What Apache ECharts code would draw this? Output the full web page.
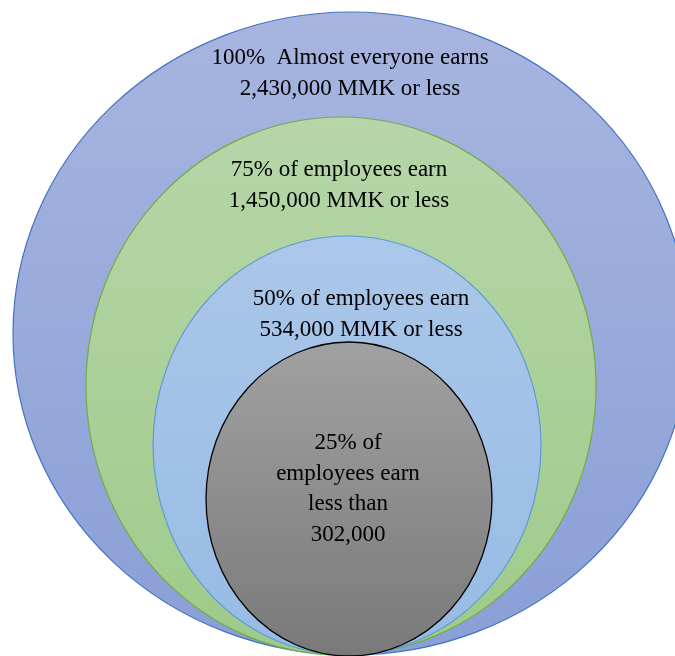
<!DOCTYPE html>
<html>
<head>
<meta charset="utf-8">
<script src="https://cdn.jsdelivr.net/npm/echarts@6/dist/echarts.min.js"></script>
<style>
  html, body { margin: 0; padding: 0; background: #ffffff; }
  #chart { width: 675px; height: 656px; }
</style>
</head>
<body>
<div id="chart"></div>
<script>
// Earnings percentiles, outermost group first
const shares = ['100%', '75%', '50%', '25%'];
const earnings = ['2,430,000', '1,450,000', '534,000', '302,000'];
const captions = [
  ['100%  Almost everyone earns', '2,430,000 MMK or less'],
  ['75% of employees earn', '1,450,000 MMK or less'],
  ['50% of employees earn', '534,000 MMK or less'],
  ['25% of', 'employees earn', 'less than', '302,000']
];

// Ellipse extents on the hidden plane: [left, right, top, bottom]
const extents = [
  [13, 689, 12, 655],
  [86, 596, 117, 655],
  [153, 541, 236, 655],
  [206, 492, 342, 656]
];
// Caption anchor per ellipse: [centre x, first line centre y]
const captionAnchors = [[350, 58], [339, 170], [361, 299], [348, 443]];

const fills = [
  ['#a7b5df', '#8a9fd7'],
  ['#b6d6a9', '#9fca8a'],
  ['#abc7e9', '#97bbe4'],
  ['#a1a1a1', '#797979']
];
const strokes = ['#4472c4', '#70ad47', '#5b9bd5', '#000000'];

const chart = echarts.init(document.getElementById('chart'), null, { renderer: 'canvas' });

const seriesData = shares.map((s, i) => ({
  name: s + ' / ' + earnings[i],
  value: [extents[i][0], extents[i][1], extents[i][2], extents[i][3], captionAnchors[i][0], captionAnchors[i][1], i]
}));

chart.setOption({
  animation: false,
  grid: { left: 0, right: 0, top: 0, bottom: 0 },
  xAxis: { type: 'value', min: 0, max: 675, show: false },
  yAxis: { type: 'value', min: 0, max: 656, inverse: true, show: false },
  series: [{
    type: 'custom',
    coordinateSystem: 'cartesian2d',
    clip: false,
    data: seriesData,
    renderItem: function (params, api) {
      const idx = api.value(6);
      const p1 = api.coord([api.value(0), api.value(2)]);
      const p2 = api.coord([api.value(1), api.value(3)]);
      const cx = (p1[0] + p2[0]) / 2, cy = (p1[1] + p2[1]) / 2;
      const rx = Math.abs(p2[0] - p1[0]) / 2, ry = Math.abs(p2[1] - p1[1]) / 2;
      const anchor = api.coord([api.value(4), api.value(5)]);
      const children = [{
        type: 'path',
        shape: {
          pathData: 'M' + (cx - rx) + ' ' + cy +
            ' A' + rx + ' ' + ry + ' 0 1 0 ' + (cx + rx) + ' ' + cy +
            ' A' + rx + ' ' + ry + ' 0 1 0 ' + (cx - rx) + ' ' + cy + ' Z'
        },
        style: {
          fill: new echarts.graphic.LinearGradient(0, 0, 0, 1, [
            { offset: 0, color: fills[idx][0] },
            { offset: 1, color: fills[idx][1] }
          ]),
          stroke: strokes[idx],
          lineWidth: idx === 3 ? 1.3 : 1.2
        }
      }];
      captions[idx].forEach((line, k) => {
        children.push({
          type: 'text',
          x: anchor[0],
          y: anchor[1] + k * 30.5,
          style: {
            text: line,
            fill: '#000000',
            font: '23px "Liberation Serif", "Times New Roman", serif',
            align: 'center',
            verticalAlign: 'middle'
          }
        });
      });
      return { type: 'group', children: children };
    }
  }]
});
</script>
</body>
</html>
